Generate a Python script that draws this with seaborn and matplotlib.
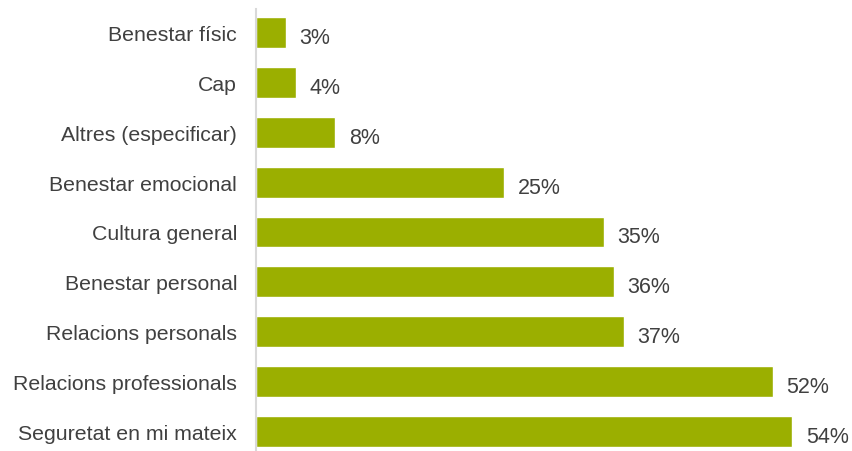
import matplotlib
matplotlib.use("Agg")
import matplotlib.pyplot as plt
import seaborn as sns
import pandas as pd

categories = ["Benestar físic", "Cap", "Altres (especificar)", "Benestar emocional",
              "Cultura general", "Benestar personal", "Relacions personals",
              "Relacions professionals", "Seguretat en mi mateix"]
values = [3, 4, 8, 25, 35, 36, 37, 52, 54]

df = pd.DataFrame({"cat": categories, "val": values})

sns.set_style("white")
plt.rcParams['font.family'] = ['Liberation Sans', 'DejaVu Sans']

W, H = 853, 452
fig = plt.figure(figsize=(W / 100, H / 100), dpi=100)
ax = fig.add_axes([256 / W, 0, 596 / W, 1 - 10 / H])

sns.barplot(data=df, x="val", y="cat", orient="h", color="#9BAF00",
            saturation=1, width=0.62, ax=ax)

ax.set_xlim(0, 60)
ax.set_ylim(8.40, -0.48)
for s in ["top", "right", "bottom"]:
    ax.spines[s].set_visible(False)
ax.spines["left"].set_color("#D9D9D9")
ax.spines["left"].set_linewidth(1.5)
ax.set_xticks([])
ax.set_xlabel("")
ax.set_ylabel("")
ax.tick_params(axis="y", length=0, pad=13.5, labelsize=15.3, labelcolor="#404040")

for i, v in enumerate(values):
    ax.text(v + 1.35, i + 0.1, f"{v}%", va="center", ha="left",
            fontsize=15.5, color="#404040")

fig.savefig("out.png", dpi=100)
